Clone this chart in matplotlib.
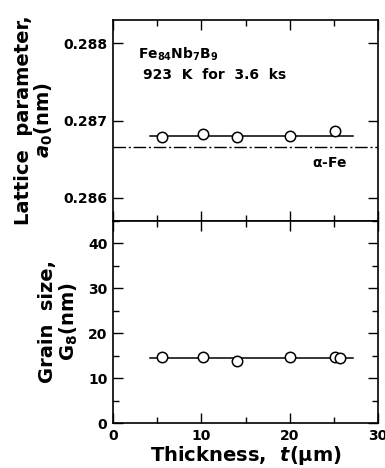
import numpy as np
import matplotlib.pyplot as plt
from matplotlib.ticker import MultipleLocator

# values
thick_a = [5.5, 10.2, 14.0, 20.0, 25.1]
lattice = [0.28679, 0.28682, 0.28679, 0.28680, 0.28686]
thick_g = [5.5, 10.2, 14.0, 20.0, 25.1, 25.7]
grain = [14.7, 14.7, 13.8, 14.7, 14.7, 14.5]
fit_x = [4.2, 27.2]
fit_a = [0.28680, 0.28680]
fit_g = [14.4, 14.4]
alpha_fe = 0.28666

plt.rcParams['font.family'] = ['DejaVu Sans']
plt.rcParams['font.weight'] = 'bold'
plt.rcParams['mathtext.fontset'] = 'custom'
plt.rcParams['mathtext.rm'] = 'DejaVu Sans:bold'
plt.rcParams['mathtext.it'] = 'DejaVu Sans:italic:bold'
plt.rcParams['mathtext.bf'] = 'DejaVu Sans:bold'

fig = plt.figure(figsize=(3.85, 4.68), dpi=100)
ax1 = fig.add_axes([0.2935, 0.528, 0.6885, 0.429])
ax2 = fig.add_axes([0.2935, 0.096, 0.6885, 0.432], sharex=ax1)

# top panel: lattice parameter
ax1.plot(fit_x, fit_a, color='black', lw=1.1)
ax1.plot(thick_a, lattice, 'o', ms=7.5, mfc='white', mec='black', mew=1.1)
ax1.axhline(alpha_fe, color='black', lw=1.0, ls=(0, (9, 2, 1.5, 2)))
ax1.text(26.5, 0.28645, r'$\mathrm{\alpha}$-Fe', ha='right', va='center', fontsize=10)
ax1.text(2.8, 0.28786, r'Fe$_{84}$Nb$_7$B$_9$', fontsize=10, va='center')
ax1.text(3.4, 0.28759, '923  K  for  3.6  ks', fontsize=10, va='center')
ax1.set_ylim(0.2857, 0.2883)
ax1.set_yticks([0.286, 0.287, 0.288])
ax1.set_yticklabels(['0.286', '0.287', '0.288'])
ax1.set_ylabel('Lattice  parameter,\n$a_0$(nm)', fontsize=14, fontweight='bold',
               labelpad=6, linespacing=1.0)
ax1.tick_params(labelbottom=False)

# bottom panel: grain size
ax2.plot(fit_x, fit_g, color='black', lw=1.1)
ax2.plot(thick_g, grain, 'o', ms=7.5, mfc='white', mec='black', mew=1.1)
ax2.set_ylim(0, 45)
ax2.set_xlim(0, 30)
ax2.yaxis.set_major_locator(MultipleLocator(10))
ax2.yaxis.set_minor_locator(MultipleLocator(5))
ax2.xaxis.set_major_locator(MultipleLocator(10))
ax2.xaxis.set_minor_locator(MultipleLocator(5))
ax2.set_ylabel('Grain  size,\nG$_8$(nm)', fontsize=14, fontweight='bold',
               labelpad=6, linespacing=1.0)
ax2.set_xlabel('Thickness,  $t$(\u03bcm)', fontsize=14, fontweight='bold', labelpad=1)

for ax in (ax1, ax2):
    ax.tick_params(which='both', direction='in', top=True, right=True,
                   labelsize=10, width=1.0)
    ax.tick_params(which='major', length=7, pad=4)
    ax.tick_params(which='minor', length=4)
    for sp in ax.spines.values():
        sp.set_linewidth(1.2)
    for lab in ax.get_xticklabels() + ax.get_yticklabels():
        lab.set_fontweight('bold')

fig.savefig('out.png', dpi=100)
